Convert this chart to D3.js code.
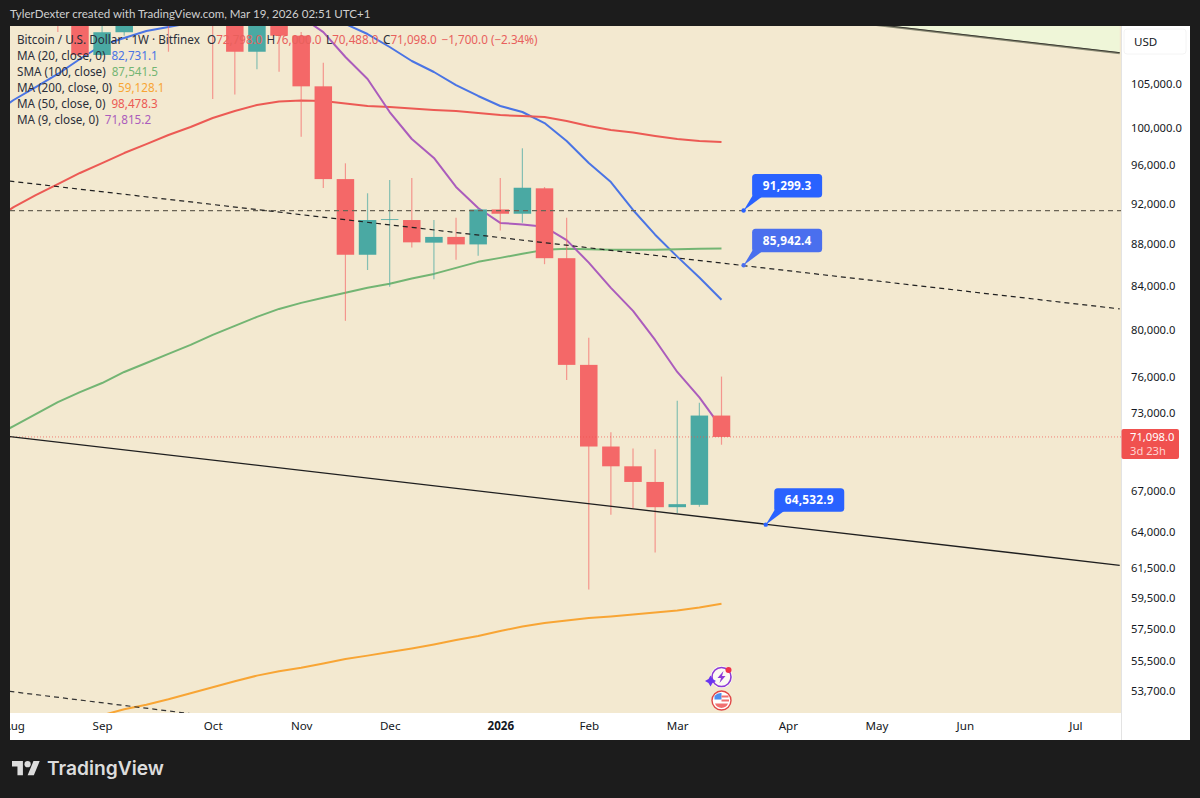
<!DOCTYPE html>
<html>
<head>
<meta charset="utf-8">
<script src="https://cdn.jsdelivr.net/npm/d3@7"></script>
<style>
	html, body { margin: 0; padding: 0; background: #1c1c1c; }
	svg { display: block; }
	text { font-family: "Noto Sans", sans-serif; }
</style>
</head>
<body>
<div id="chart"></div>
<script>
const WIDTH = 1200;
const HEIGHT = 798;
const PANE = { left: 10, top: 26, right: 1121, bottom: 713 };
const FRAME = { right: 1190, bottom: 740 };

const RED = "#f46868";
const TEAL = "#4aa9a3";
const BG = "#f3e9d0";

// weekly bars, Monday dates
const weeks = [
	"2025-07-28", "2025-08-04", "2025-08-11", "2025-08-18", "2025-08-25", "2025-09-01", "2025-09-08",
	"2025-09-15", "2025-09-22", "2025-09-29", "2025-10-06", "2025-10-13", "2025-10-20", "2025-10-27",
	"2025-11-03", "2025-11-10", "2025-11-17", "2025-11-24", "2025-12-01", "2025-12-08", "2025-12-15",
	"2025-12-22", "2025-12-29", "2026-01-05", "2026-01-12", "2026-01-19", "2026-01-26", "2026-02-02",
	"2026-02-09", "2026-02-16", "2026-02-23", "2026-03-02", "2026-03-09", "2026-03-16"
];

// candles start at the fourth week, the earlier ones are above the visible range
const opens = [117400, 113500, 108420, 111180, 115300, 115300, 112200, 123500, 115000, 108810, 114500,
	110760, 104730, 94530, 86950, 90350, 90350, 88120, 88680, 87950, 91410, 90980, 93570, 86620, 76990,
	70350, 68830, 67650, 65790, 65960, 72798];
const highs = [117600, 113600, 113400, 116700, 117900, 115400, 125700, 126200, 115900, 116000, 116400,
	111200, 107500, 96190, 93060, 94430, 94640, 90350, 90580, 91500, 94640, 97800, 93700, 90580, 79330,
	71460, 70190, 70130, 74000, 73830, 76000];
const lows = [111200, 108100, 108300, 110760, 114300, 108810, 111950, 103270, 103790, 106720, 106440,
	99060, 93600, 80830, 85500, 83920, 87660, 84620, 86460, 86850, 89300, 90080, 86050, 75710, 60070,
	65240, 65740, 62570, 65360, 65830, 70488];
const closes = [113500, 108420, 111180, 115300, 115300, 112200, 123500, 115000, 108810, 114500, 110760,
	104730, 94530, 86950, 90350, 90430, 88150, 88680, 87950, 91410, 90980, 93630, 86620, 76990, 70350,
	68830, 67650, 65790, 66010, 72798, 71098];

const ma20 = [101460, 103160, 104650, 106170, 107940, 109620, 110470, 111330, 111830, 112320, 112570,
	112700, 112700, 112700, 112700, 112450, 112200, 110960, 109380, 107700, 106400, 104880, 103620,
	102480, 101800, 100570, 98590, 96220, 94220, 91360, 88900, 86770, 84790, 82731];
const ma50 = [90160, 91650, 92880, 94010, 95170, 96220, 97290, 98260, 99250, 100130, 101130, 101910,
	102590, 102990, 103100, 103050, 102760, 102480, 102370, 102200, 102030, 101910, 101690, 101460,
	101350, 101240, 100790, 100240, 99800, 99520, 99140, 98810, 98590, 98478];
const sma100 = [71010, 71960, 72920, 73890, 74710, 75460, 76390, 77150, 77930, 78710, 79580, 80380,
	81180, 81900, 82450, 82910, 83370, 83830, 84200, 84700, 85130, 85700, 86270, 86650, 87040, 87420,
	87520, 87470, 87420, 87420, 87420, 87470, 87520, 87541];
const ma200 = [50570, 50960, 51360, 51760, 51990, 52280, 52630, 52890, 53210, 53570, 53920, 54280,
	54620, 54890, 55100, 55350, 55630, 55840, 56060, 56280, 56530, 56810, 57060, 57380, 57660, 57890,
	58050, 58210, 58310, 58440, 58570, 58700, 58890, 59128];
// MA 9 only matters from late October, before that it runs above the pane
const ma9 = [null, null, null, null, null, null, null, null, null, null, null, null, null, 113450,
	113070, 111200, 108180, 105580, 101800, 98810, 96760, 93710, 91560, 90060, 89910, 89670, 88370,
	86200, 83830, 81720, 79140, 76390, 74270, 71815];

const priceTicks = [105000, 100000, 96000, 92000, 88000, 84000, 80000, 76000, 73000, 67000, 64000,
	61500, 59500, 57500, 55500, 53700];
const timeTickDates = ["2025-08-04", "2025-09-01", "2025-10-06", "2025-11-03", "2025-12-01", "2026-01-05",
	"2026-02-02", "2026-03-02", "2026-04-06", "2026-05-04", "2026-06-01", "2026-07-06"];
const timeTickNames = ["Aug", "Sep", "Oct", "Nov", "Dec", "2026", "Feb", "Mar", "Apr", "May", "Jun", "Jul"];

const legendNames = ["MA (20, close, 0)", "SMA (100, close)", "MA (200, close, 0)", "MA (50, close, 0)", "MA (9, close, 0)"];
const legendValues = ["82,731.1", "87,541.5", "59,128.1", "98,478.3", "71,815.2"];
const legendColors = ["#4a74e4", "#73b573", "#f8a534", "#ec5a54", "#ab5cbc"];

const lastPrice = 71098;
const horizontalLevel = 91299.3;
// two dates and prices per drawn trend line
const trendDates = ["2025-07-28", "2026-07-20"];
const trendSolid = [71300, 61700];
const trendDashed = [94540, 81900];
const trendLow = [53810, 46160];
const upperDates = ["2026-04-20", "2026-07-20"];
const upperLine = [112780, 108700];

const calloutDates = ["2026-03-23", "2026-03-23", "2026-03-30"];
const calloutPrices = [91299.3, 85942.4, 64532.9];
const calloutColors = ["#2962ff", "#4a6fee", "#2962ff"];

const parse = d3.utcParse("%Y-%m-%d");
const fmt = d3.format(",.1f");

const x = d3.scaleUtc()
	.domain([parse("2025-08-04"), parse("2026-03-16")])
	.range([13.6, 721.5]);
const y = d3.scaleLog()
	.domain([105000, 53700])
	.range([84, 691]);

const svg = d3.select("#chart").append("svg")
	.attr("width", WIDTH)
	.attr("height", HEIGHT)
	.attr("viewBox", `0 0 ${WIDTH} ${HEIGHT}`);

svg.append("defs").append("clipPath").attr("id", "pane-clip")
	.append("rect")
	.attr("x", PANE.left).attr("y", PANE.top)
	.attr("width", PANE.right - PANE.left).attr("height", PANE.bottom - PANE.top);
svg.select("defs").append("clipPath").attr("id", "time-clip")
	.append("rect")
	.attr("x", PANE.left).attr("y", PANE.bottom)
	.attr("width", PANE.right - PANE.left).attr("height", FRAME.bottom - PANE.bottom);

// frame
svg.append("rect").attr("width", WIDTH).attr("height", HEIGHT).attr("fill", "#1c1c1c");
svg.append("rect")
	.attr("x", PANE.left).attr("y", PANE.top)
	.attr("width", FRAME.right - PANE.left).attr("height", FRAME.bottom - PANE.top)
	.attr("fill", "#fff");
svg.append("rect")
	.attr("x", PANE.left).attr("y", PANE.top)
	.attr("width", PANE.right - PANE.left).attr("height", PANE.bottom - PANE.top)
	.attr("fill", BG);
svg.append("line")
	.attr("x1", PANE.right + 0.5).attr("x2", PANE.right + 0.5)
	.attr("y1", PANE.top).attr("y2", FRAME.bottom)
	.attr("stroke", "#e3e3e3");

svg.append("text")
	.attr("x", 10).attr("y", 18)
	.attr("fill", "#cfcfcf")
	.attr("font-size", 11.55)
	.style("font-family", "Lato, sans-serif")
	.text("TylerDexter created with TradingView.com, Mar 19, 2026 02:51 UTC+1");

const pane = svg.append("g").attr("clip-path", "url(#pane-clip)");

// green zone above the upper channel line
const upperData = upperDates.map((d, i) => ({ date: parse(d), price: upperLine[i] }));
pane.append("path")
	.datum(upperData)
	.attr("fill", "#eff6d8")
	.attr("d", d3.area().x(d => x(d.date)).y0(PANE.top).y1(d => y(d.price)));
pane.append("path")
	.datum(upperData)
	.attr("fill", "none")
	.attr("stroke", "#8a8a74")
	.attr("stroke-width", 2)
	.attr("transform", "translate(0,0.6)")
	.attr("d", d3.line().x(d => x(d.date)).y(d => y(d.price)));
pane.append("path")
	.datum(upperData)
	.attr("fill", "none")
	.attr("stroke", "#3c3c34")
	.attr("stroke-width", 1)
	.attr("d", d3.line().x(d => x(d.date)).y(d => y(d.price)));

// moving averages sit under the candles
const maLine = d3.line()
	.defined(d => d.value !== null)
	.x(d => x(d.date))
	.y(d => y(d.value));

[ma20, sma100, ma200, ma50, ma9].forEach((series, i) => {
	pane.append("path")
		.datum(series.map((v, j) => ({ date: parse(weeks[j]), value: v })))
		.attr("fill", "none")
		.attr("stroke", legendColors[i])
		.attr("stroke-width", 2)
		.attr("stroke-linejoin", "round")
		.attr("d", maLine);
});

// candles
const candles = weeks.slice(3).map((w, i) => ({
	date: parse(w), open: opens[i], high: highs[i], low: lows[i], close: closes[i]
}));
const CANDLE_W = 17.5;

const candle = pane.append("g").selectAll("g")
	.data(candles)
	.join("g")
	.attr("fill", d => d.close >= d.open ? TEAL : RED)
	.attr("stroke", d => d.close >= d.open ? TEAL : RED);

candle.append("line")
	.attr("x1", d => x(d.date)).attr("x2", d => x(d.date))
	.attr("y1", d => y(d.high)).attr("y2", d => y(d.low))
	.attr("stroke-opacity", 0.65)
	.attr("stroke-width", 1.2);

candle.append("rect")
	.attr("x", d => x(d.date) - CANDLE_W / 2)
	.attr("width", CANDLE_W)
	.attr("y", d => y(Math.max(d.open, d.close)))
	.attr("height", d => Math.max(0.8, y(Math.min(d.open, d.close)) - y(Math.max(d.open, d.close))))
	.attr("stroke", "none");

// drawn levels and trend lines
pane.append("line")
	.attr("x1", PANE.left).attr("x2", PANE.right)
	.attr("y1", y(lastPrice)).attr("y2", y(lastPrice))
	.attr("stroke", "#ef5350")
	.attr("stroke-opacity", 0.7)
	.attr("stroke-dasharray", "1 2");

pane.append("line")
	.attr("x1", PANE.left).attr("x2", PANE.right)
	.attr("y1", y(horizontalLevel)).attr("y2", y(horizontalLevel))
	.attr("stroke", "#6a6456")
	.attr("stroke-width", 1.2)
	.attr("stroke-dasharray", "5 4");

const trendLine = d3.line().x(d => x(d.date)).y(d => y(d.price));
function drawTrend(prices, dash, color, width) {
	pane.append("path")
		.datum(trendDates.map((d, i) => ({ date: parse(d), price: prices[i] })))
		.attr("fill", "none")
		.attr("stroke", color)
		.attr("stroke-width", width)
		.attr("stroke-dasharray", dash)
		.attr("d", trendLine);
}
drawTrend(trendSolid, null, "#1f1f1f", 1.3);
drawTrend(trendDashed, "5 4", "#222", 1.2);
drawTrend(trendLow, "5 4", "#333", 1.2);

// price axis
const yAxis = svg.append("g")
	.attr("transform", `translate(${PANE.right},0)`)
	.call(d3.axisRight(y).tickValues(priceTicks).tickSize(0).tickPadding(10).tickFormat(fmt));
yAxis.select(".domain").remove();
yAxis.selectAll("text")
	.attr("fill", "#131722")
	.attr("font-size", 11.2)
	.style("font-family", '"Noto Sans", sans-serif');

// time axis
const timeGroup = svg.append("g").attr("clip-path", "url(#time-clip)");
const xAxis = timeGroup.append("g")
	.attr("transform", `translate(0,${PANE.bottom})`)
	.call(d3.axisBottom(x)
		.tickValues(timeTickDates.map(parse))
		.tickSize(0)
		.tickPadding(9)
		.tickFormat((d, i) => timeTickNames[i]));
xAxis.select(".domain").remove();
xAxis.selectAll("text")
	.attr("fill", "#131722")
	.attr("font-size", 11.6)
	.attr("font-weight", (d, i) => timeTickNames[i] === "2026" ? 700 : 400)
	.style("font-family", '"Noto Sans", sans-serif');

// USD button
svg.append("rect")
	.attr("x", 1124).attr("y", 29).attr("width", 62).attr("height", 25).attr("rx", 3)
	.attr("fill", "#fff").attr("stroke", "#f4f4f4");
svg.append("text")
	.attr("x", 1134).attr("y", 46)
	.attr("fill", "#131722").attr("font-size", 11.6)
	.text("USD");

// last price tag
const tagY = y(lastPrice);
svg.append("rect")
	.attr("x", PANE.right + 0.5).attr("y", tagY - 8)
	.attr("width", 57.5).attr("height", 30).attr("rx", 2)
	.attr("fill", "#f0514f");
svg.append("text")
	.attr("x", 1130).attr("y", tagY + 4)
	.attr("fill", "#fff").attr("font-size", 11.2)
	.text(fmt(lastPrice));
svg.append("text")
	.attr("x", 1130).attr("y", tagY + 18)
	.attr("fill", "#ffd4d2").attr("font-size", 11.2)
	.text("3d 23h");

// legend
const legend = svg.append("g").attr("font-size", 11.7);
const head = legend.append("text").attr("x", 17).attr("y", 44).attr("fill", "#2a2e39");
head.append("tspan").text("Bitcoin / U.S. Dollar · 1W · Bitfinex");
const ohlcLabels = ["O", "H", "L", "C"];
const ohlcValues = [72798, 76000, 70488, 71098];
const ohlcLeft = [207, 266.5, 326, 383];
ohlcLabels.forEach((label, i) => {
	head.append("tspan").attr("x", ohlcLeft[i]).text(label);
	head.append("tspan").attr("fill", "#e8605c").text(fmt(ohlcValues[i]));
});
head.append("tspan").attr("x", 441.5).attr("fill", "#e8605c").text("−1,700.0 (−2.34%)");

legendNames.forEach((name, i) => {
	const row = legend.append("text")
		.attr("x", 17)
		.attr("y", 60 + i * 16.1)
		.attr("fill", "#2a2e39");
	row.append("tspan").text(name);
	row.append("tspan").attr("dx", 6).attr("fill", legendColors[i]).text(legendValues[i]);
});

// price callouts
const callouts = svg.append("g").selectAll("g")
	.data(calloutPrices.map((p, i) => ({ price: p, date: parse(calloutDates[i]), color: calloutColors[i] })))
	.join("g")
	.attr("transform", d => `translate(${x(d.date)},${y(d.price)})`);
callouts.append("path")
	.attr("fill", d => d.color)
	.attr("d", "M0,0L9,-15L20,-15Z");
callouts.append("rect")
	.attr("x", 8.5).attr("y", -36.5)
	.attr("width", 70).attr("height", 23.5).attr("rx", 3.5)
	.attr("fill", d => d.color);
callouts.append("circle")
	.attr("r", 2.2)
	.attr("fill", d => d.color);
callouts.append("text")
	.attr("x", 43.5).attr("y", -20.5)
	.attr("text-anchor", "middle")
	.attr("fill", "#fff")
	.attr("font-size", 11.8)
	.attr("font-weight", 700)
	.attr("letter-spacing", 0.2)
	.text(d => fmt(d.price));

// event icons over the last bar
const iconX = x(parse("2026-03-16"));
const spark = svg.append("g").attr("transform", `translate(${iconX},677)`);
spark.append("circle").attr("r", 11).attr("fill", "#fff").attr("fill-opacity", 0.75);
spark.append("circle").attr("r", 9.5).attr("fill", "none")
	.attr("stroke", "#8e3bd8").attr("stroke-width", 1.6);
spark.append("path").attr("fill", "#8e3bd8").attr("d", "M2,-6L-4,1L-0.5,1L-2,6L4,-1L0.5,-1Z");
spark.append("path").attr("fill", "#6a35f0").attr("d", "M-11,-1.5L-9,2L-5.5,4L-9,6L-11,9.5L-13,6L-16.5,4L-13,2Z");
spark.append("circle").attr("cx", 7).attr("cy", -7).attr("r", 3).attr("fill", "#f0314a");

const flag = svg.append("g").attr("transform", `translate(${iconX},700.5)`);
flag.append("circle").attr("r", 9.5).attr("fill", "#fff").attr("stroke", "#e04848").attr("stroke-width", 1.4);
flag.append("path").attr("fill", "#4d90f0").attr("d", "M-7,-1V-4.5A8,8 0 0 1 0,-7.5V-1Z");
flag.append("rect").attr("x", 0).attr("y", -5).attr("width", 7).attr("height", 2).attr("fill", "#f07070");
flag.append("rect").attr("x", 0).attr("y", -1).attr("width", 7.5).attr("height", 2).attr("fill", "#f07070");
flag.append("path").attr("fill", "#f07070").attr("d", "M-6.5,3H6.5A7,7 0 0 1 -6.5,3Z");

// footer logo
const logo = svg.append("g")
	.attr("transform", "translate(12,758) scale(0.78)")
	.attr("fill", "#dcdcdc");
logo.append("path").attr("d", "M14 22H7V11H0V4h14v18zM28 22h-8l7.5-18h8L28 22z");
logo.append("circle").attr("cx", 20).attr("cy", 8).attr("r", 4);
svg.append("text")
	.attr("x", 47).attr("y", 775)
	.attr("fill", "#dcdcdc")
	.attr("font-size", 19.2)
	.attr("font-weight", 600)
	.style("font-family", "Inter, sans-serif")
	.text("TradingView");
</script>
</body>
</html>
